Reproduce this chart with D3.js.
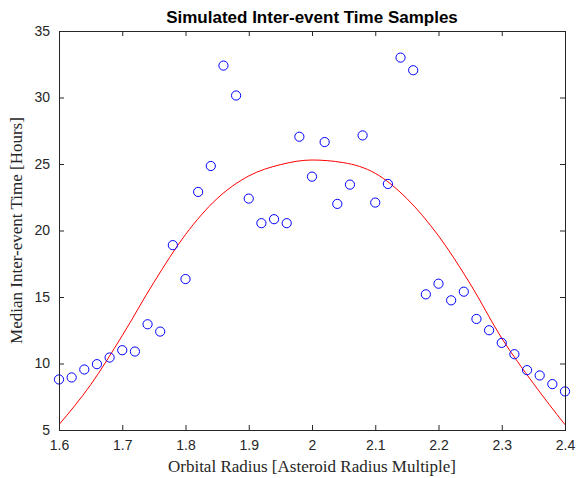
<!DOCTYPE html>
<meta charset="UTF-8">
<style>
    body { margin: 0; background: #fff; }
    .tick-label { font-family: "Liberation Sans", Arial, sans-serif; font-size: 14px; fill: #262626; }
    .axis-label { font-family: "Liberation Serif", "Times New Roman", serif; font-size: 17px; fill: #262626; }
    .title { font-family: "Liberation Sans", Arial, sans-serif; font-size: 17px; font-weight: bold; fill: #000; }
</style>
<body>
<div id="chart"></div>
<script src="https://d3js.org/d3.v7.min.js"></script>
<script>

// sample points (orbital radius, median inter-event time)
var radius = [1.60, 1.62, 1.64, 1.66, 1.68, 1.70, 1.72, 1.74, 1.76, 1.78,
              1.80, 1.82, 1.84, 1.86, 1.88, 1.90, 1.92, 1.94, 1.96, 1.98,
              2.00, 2.02, 2.04, 2.06, 2.08, 2.10, 2.12, 2.14, 2.16, 2.18,
              2.20, 2.22, 2.24, 2.26, 2.28, 2.30, 2.32, 2.34, 2.36, 2.38, 2.40];
var hours = [8.8, 8.95, 9.55, 9.95, 10.45, 11.0, 10.9, 12.95, 12.4, 18.9,
             16.35, 22.9, 24.85, 32.4, 30.15, 22.4, 20.55, 20.85, 20.55, 27.05,
             24.05, 26.65, 22.0, 23.45, 27.15, 22.1, 23.5, 33.0, 32.05, 15.2,
             16.0, 14.75, 15.4, 13.35, 12.5, 11.55, 10.7, 9.5, 9.1, 8.45, 7.9];

// fitted curve
var fitX = [1.60, 1.65, 1.70, 1.75, 1.80, 1.85, 1.90, 1.95, 2.00, 2.05,
            2.10, 2.15, 2.20, 2.25, 2.30, 2.35, 2.40];
var fitY = [5.4, 8.4, 12.1, 16.1, 19.7, 22.4, 24.1, 24.95, 25.3, 25.1,
            24.3, 22.4, 19.6, 16.0, 11.9, 8.5, 5.4];

var xTicks = [1.6, 1.7, 1.8, 1.9, 2.0, 2.1, 2.2, 2.3, 2.4];
var xTickLabels = ["1.6", "1.7", "1.8", "1.9", "2", "2.1", "2.2", "2.3", "2.4"];
var yTicks = [5, 10, 15, 20, 25, 30, 35];

var margin = {top: 31, right: 15, bottom: 48, left: 59},
    width = 580 - margin.left - margin.right,
    height = 478 - margin.top - margin.bottom;

var x = d3.scaleLinear().domain([1.6, 2.4]).range([0, width]);
var y = d3.scaleLinear().domain([5, 35]).range([height, 0]);

var svg = d3.select("#chart").append("svg")
        .attr("width", 580)
        .attr("height", 478)
    .append("g")
        .attr("transform", "translate(" + margin.left + "," + margin.top + ")");

// clip for the fitted line
svg.append("clipPath").attr("id", "clip")
    .append("rect").attr("width", width).attr("height", height);

// fitted curve
var fit = fitX.map(function(d, i) { return [d, fitY[i]]; });
var line = d3.line()
    .x(function(d) { return x(d[0]); })
    .y(function(d) { return y(d[1]); })
    .curve(d3.curveMonotoneX);

svg.append("path")
    .datum(fit)
    .attr("clip-path", "url(#clip)")
    .attr("fill", "none")
    .attr("stroke", "#ff0000")
    .attr("stroke-width", 1)
    .attr("d", line);

// samples
svg.selectAll(".dot")
    .data(radius)
  .enter().append("circle")
    .attr("class", "dot")
    .attr("cx", function(d) { return x(d); })
    .attr("cy", function(d, i) { return y(hours[i]); })
    .attr("r", 4.6)
    .attr("fill", "none")
    .attr("stroke", "#0000ff")
    .attr("stroke-width", 1);

// axes, matlab style box with inner ticks
var axColor = "#262626";
function styleAxis(g) {
    g.select(".domain").remove();
    g.selectAll(".tick line").attr("stroke", axColor);
    g.selectAll(".tick text").attr("class", "tick-label").attr("fill", axColor);
}

svg.append("g")
    .attr("transform", "translate(0," + height + ")")
    .call(d3.axisBottom(x).tickValues(xTicks).tickSizeInner(-5).tickPadding(10)
        .tickFormat(function(d, i) { return xTickLabels[i]; }))
    .call(styleAxis)
    .selectAll("text").attr("dy", "0.71em");

svg.append("g")
    .call(d3.axisTop(x).tickValues(xTicks).tickSizeInner(-5).tickFormat(""))
    .call(styleAxis);

svg.append("g")
    .call(d3.axisLeft(y).tickValues(yTicks).tickSizeInner(-5).tickPadding(9))
    .call(styleAxis);

svg.append("g")
    .attr("transform", "translate(" + width + ",0)")
    .call(d3.axisRight(y).tickValues(yTicks).tickSizeInner(-5).tickFormat(""))
    .call(styleAxis);

svg.append("rect")
    .attr("width", width)
    .attr("height", height)
    .attr("fill", "none")
    .attr("stroke", axColor)
    .attr("stroke-width", 1)
    .attr("shape-rendering", "crispEdges");

// labels
svg.append("text")
    .attr("class", "title")
    .attr("x", width / 2)
    .attr("y", -8)
    .attr("text-anchor", "middle")
    .text("Simulated Inter-event Time Samples");

svg.append("text")
    .attr("class", "axis-label")
    .attr("x", width / 2)
    .attr("y", height + 42)
    .attr("text-anchor", "middle")
    .text("Orbital Radius [Asteroid Radius Multiple]");

svg.append("text")
    .attr("class", "axis-label")
    .attr("transform", "translate(-37," + (height / 2) + ") rotate(-90)")
    .attr("text-anchor", "middle")
    .text("Median Inter-event Time [Hours]");

</script>
</body>
